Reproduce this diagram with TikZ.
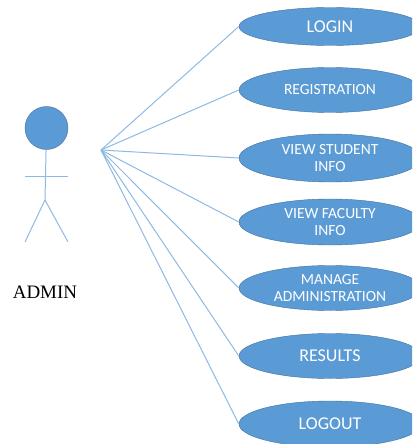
\documentclass[tikz,border=0pt]{standalone}
\usepackage{fontspec}
\setmainfont{Carlito}
\newfontfamily\adminfont{Liberation Serif}
\usepackage{xcolor}
\definecolor{ublue}{HTML}{5B9BD5}
\definecolor{uedge}{HTML}{41719C}
\definecolor{ulink}{HTML}{8DB9E2}
\usetikzlibrary{positioning,shapes.geometric}
\tikzset{
  usecase/.style={ellipse,draw=uedge,fill=ublue,thin,text=white,minimum width=182pt,minimum height=45pt,inner sep=0pt,align=center,font=\fontsize{15.5}{16.5}\selectfont},
  usecaseb/.style={usecase,font=\fontsize{18}{19}\selectfont},
  actor/.style={circle,draw=uedge,fill=ublue,thin,minimum size=43pt,inner sep=0pt},
  line/.style={draw=ulink,line width=1pt},
}
\begin{document}
\begin{tikzpicture}
    \clip (0,0) rectangle (412pt,-444pt);

    \node[usecaseb,minimum height=38pt] (login) at (330pt,-26.5pt) {LOGIN};
    \node[usecase,below of=login,node distance=63.5pt] (reg) {REGISTRATION};
    \node[usecase,minimum height=48pt,below of=reg,node distance=68pt] (student) {VIEW STUDENT\\INFO};
    \node[usecase,minimum height=46pt,below of=student,node distance=64pt] (faculty) {VIEW FACULTY\\INFO};
    \node[usecase,below of=faculty,node distance=66pt] (manage) {MANAGE\\ADMINISTRATION};
    \node[usecaseb,below of=manage,node distance=68pt] (results) {RESULTS};
    \node[usecaseb,minimum height=46pt,below of=results,node distance=68pt] (logout) {LOGOUT};

    \node[actor] (head) at (46.5pt,-128pt) {};
    \coordinate (hub) at (101pt,-150pt);
    \coordinate (hip) at (45pt,-200pt);
    \coordinate (arml) at (25pt,-176pt);
    \coordinate (armr) at (68pt,-176pt);
    \coordinate (footl) at (25pt,-242pt);
    \coordinate (footr) at (68pt,-242pt);
    \node[font=\adminfont\fontsize{19}{22}\selectfont] (admin) at (45pt,-292pt) {ADMIN};

    \begin{scope} [every path/.style=line]
      \path (head) -- (hip);
      \path (arml) -- (armr);
      \path (hip) -- (footl);
      \path (hip) -- (footr);

      \path (hub) -- (login.west);
      \path (hub) -- (reg.west);
      \path (hub) -- (student.west);
      \path (hub) -- (faculty.west);
      \path (hub) -- (manage.west);
      \path (hub) -- (results.west);
      \path (hub) -- (logout.west);
    \end{scope}
  \end{tikzpicture}
\end{document}
